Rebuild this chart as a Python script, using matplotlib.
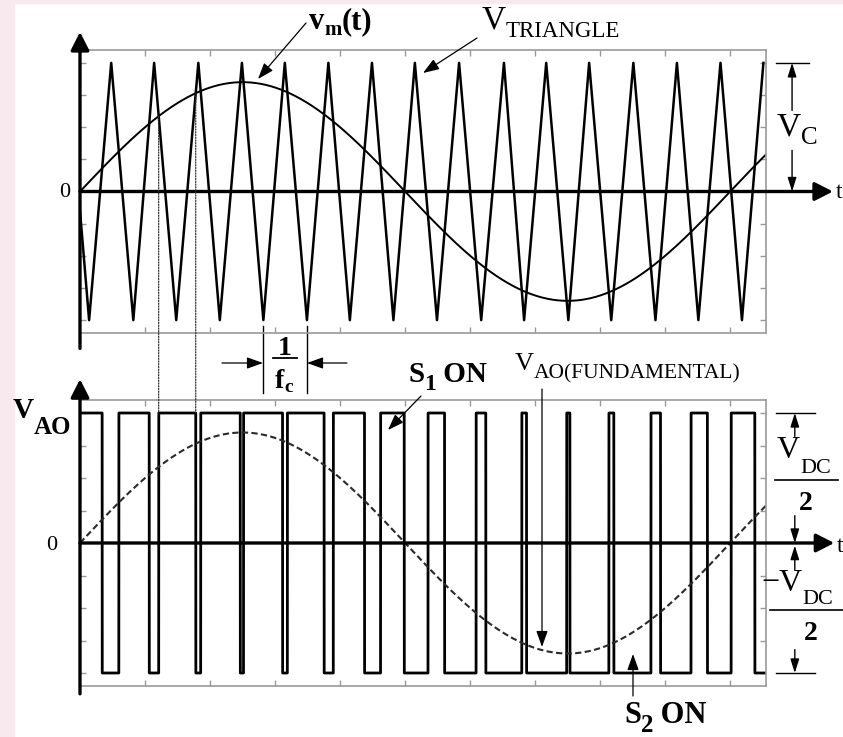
import numpy as np
import matplotlib.pyplot as plt
import matplotlib.transforms as mtransforms
from matplotlib.patches import ConnectionPatch, Rectangle

plt.rcParams['font.family'] = ['Liberation Serif', 'DejaVu Serif']

# time axis in fundamental periods (one period of v_m(t) = 1.0)
t_end = 1.055
# triangle carrier vertices (peaks at +V_C, troughs at -V_C)
tri_peaks = [-0.019, 0.048, 0.114, 0.182, 0.249, 0.315, 0.382, 0.449, 0.515, 0.583,
             0.652, 0.717, 0.783, 0.851, 0.918, 0.985, 1.051]
tri_troughs = [0.014, 0.082, 0.148, 0.215, 0.282, 0.349, 0.415, 0.482, 0.549, 0.617,
               0.683, 0.751, 0.817, 0.885, 0.951, 1.018]
mod_index = 0.85          # peak of v_m(t) relative to V_C
grid_x = [0.1, 0.2, 0.3, 0.4, 0.5, 0.6, 0.7, 0.8, 0.9, 1.0]
grid_y = [-1.0, -0.75, -0.5, -0.25, 0.25, 0.5, 0.75, 1.0]

# carrier, modulating signal and the resulting leg voltage
vt = np.array(sorted(tri_peaks + tri_troughs))
vv = np.array([1.0 if x in tri_peaks else -1.0 for x in vt])
t = np.linspace(0, t_end, 30001)
tri = np.interp(t, vt, vv)
vm = mod_index * np.sin(2 * np.pi * t)
vao = np.where(vm >= tri, 1.0, -1.0)
edges = t[np.nonzero(np.diff(vao))[0]]

W, H = 843, 737
fig = plt.figure(figsize=(W / 100, H / 100), dpi=100)
fig.patches.append(Rectangle((0, 0), 14 / W, 1, transform=fig.transFigure,
                             color='#f8e9ee', zorder=0))
fig.patches.append(Rectangle((0, 1 - 3 / H), 1, 3 / H, transform=fig.transFigure,
                             color='#f8e9ee', zorder=0))

ax1 = fig.add_axes([80 / W, (H - 333) / H, 686 / W, 283 / H])
ax2 = fig.add_axes([80 / W, (H - 686) / H, 686 / W, 286 / H])
for ax in (ax1, ax2):
    ax.set_xlim(0, t_end)
    ax.set_ylim(-1.1, 1.1)
    ax.set_xticks(grid_x)
    ax.set_yticks(grid_y)
    ax.tick_params(direction='in', length=4, width=1, colors='#999999',
                   top=True, right=True, labelbottom=False, labelleft=False)
    for s in ax.spines.values():
        s.set_color('#9a9a9a')
        s.set_linewidth(1.2)
    ax.patch.set_alpha(0)

big = dict(arrowstyle='-|>,head_length=0.55,head_width=0.28', color='k',
           lw=2.4, mutation_scale=20, shrinkA=0, shrinkB=0)

# top: carrier and modulating signal
ax1.plot(vt, vv, color='k', lw=1.8)
ax1.plot(t, vm, color='k', lw=1.4)
ax1.annotate('', xy=(0, 1.24), xytext=(0, -1.22), arrowprops=big, annotation_clip=False)
ax1.annotate('', xy=(1.158, 0), xytext=(0, 0), arrowprops=big, annotation_clip=False)

# bottom: PWM output and its fundamental
ax2.plot(t, vao, color='k', lw=2.0)
ax2.plot(t, vm, color='#2a2a2a', lw=1.5, ls=(0, (3, 1.6)))
ax2.annotate('', xy=(0, 1.26), xytext=(0, -1.16), arrowprops=big, annotation_clip=False)
ax2.annotate('', xy=(1.16, 0), xytext=(0, 0), arrowprops=big, annotation_clip=False)

# dotted projection of two switching instants
for te in edges[3:5]:
    k = np.searchsorted(t, te)
    cp = ConnectionPatch(xyA=(te, vm[k]), coordsA=ax1.transData,
                         xyB=(te, 1.0), coordsB=ax2.transData,
                         ls=(0, (1, 1.2)), lw=0.9, color='#333333')
    fig.add_artist(cp)

# overlay in image pixels for the labels
ov = fig.add_axes([0, 0, 1, 1], zorder=5)
ov.set_xlim(0, W)
ov.set_ylim(H, 0)
ov.axis('off')
ov.patch.set_alpha(0)
renderer = fig.canvas.get_renderer()


def put(x, y, pieces, weight='normal'):
    for s, size, dy in pieces:
        txt = ov.text(x, y + dy, s, fontsize=size, fontweight=weight,
                      ha='left', va='baseline')
        bb = txt.get_window_extent(renderer)
        x = ov.transData.inverted().transform((bb.x1, bb.y0))[0]


small = dict(arrowstyle='-|>,head_length=0.7,head_width=0.25', color='k',
             lw=0.9, mutation_scale=14, shrinkA=0, shrinkB=0)
dim = dict(arrowstyle='-|>,head_length=0.7,head_width=0.22', color='k',
           lw=1.0, mutation_scale=12, shrinkA=0, shrinkB=0)

ov.text(65, 192, '0', fontsize=16, ha='center', va='center')
ov.text(52, 545, '0', fontsize=16, ha='center', va='center')
ov.text(836, 192, 't', fontsize=17, ha='left', va='center')
ov.text(837, 546, 't', fontsize=17, ha='left', va='center')

put(309, 29, [('v', 22, 0), ('m', 15, 6), ('(t)', 22, 0)], 'bold')
ov.annotate('', xy=(258, 79), xytext=(306, 23), arrowprops=small)

put(482, 28, [('V', 24, 0), ('TRIANGLE', 16.5, 9)])
ov.annotate('', xy=(423, 73), xytext=(477, 38), arrowprops=small)

put(777, 135, [('V', 24, 0), ('C', 18, 9)])
bt1 = ax1.get_yaxis_transform()
ax1.plot([1.014, 1.062], [1.0, 1.0], color='k', lw=1.0, transform=bt1, clip_on=False)
ax1.annotate('', xy=(1.038, 1.0), xytext=(1.038, 0.63), xycoords=bt1,
             textcoords=bt1, arrowprops=dim, annotation_clip=False)
ax1.annotate('', xy=(1.038, 0.0), xytext=(1.038, 0.32), xycoords=bt1,
             textcoords=bt1, arrowprops=dim, annotation_clip=False)

# one carrier period, 1/f_c
bl = mtransforms.blended_transform_factory(ax1.transData, ov.transData)
for tx in tri_troughs[4:6]:
    ax1.plot([tx, tx], [326, 393], color='k', lw=1.0, transform=bl, clip_on=False)
ov.annotate('', xy=(263, 363), xytext=(222, 363), arrowprops=small)
ov.annotate('', xy=(307, 363), xytext=(347, 363), arrowprops=small)
ov.text(285, 355, '1', fontsize=20, fontweight='bold', ha='center', va='baseline')
ov.plot([273, 297], [358, 358], color='k', lw=1.3)
put(275, 388, [('f', 20, 0), ('c', 14, 4)], 'bold')

put(13, 418, [('V', 21, 0), ('AO', 18, 16)], 'bold')

put(408, 382, [('S', 21, 0), ('1', 17, 8), (' ON', 21, 0)], 'bold')
ov.annotate('', xy=(388, 430), xytext=(421, 396), arrowprops=small)

put(515, 370, [('V', 19, 0), ('AO(FUNDAMENTAL)', 15.5, 8)])
ov.annotate('', xy=(542, 647), xytext=(542, 389), arrowprops=small)

put(624, 723, [('S', 22, 0), ('2', 18, 9), (' ON', 22, 0)], 'bold')
ov.annotate('', xy=(633, 654), xytext=(633, 696), arrowprops=small)

# V_DC/2 levels
put(777, 458, [('V', 23, 0), ('DC', 16, 15)])
ov.plot([775, 838], [480, 480], color='k', lw=1.2)
ov.text(806, 510, '2', fontsize=20, fontweight='bold', ha='center', va='baseline')
put(761, 591, [('\u2212V', 23, 0), ('DC', 16, 13)])
ov.plot([770, 843], [610, 610], color='k', lw=1.2)
ov.text(811, 640, '2', fontsize=20, fontweight='bold', ha='center', va='baseline')

bt2 = ax2.get_yaxis_transform()
for yy in (1.0, -1.0):
    ax2.plot([1.014, 1.072], [yy, yy], color='k', lw=1.0, transform=bt2, clip_on=False)
ax2.annotate('', xy=(1.042, 1.0), xytext=(1.042, 0.82), xycoords=bt2,
             textcoords=bt2, arrowprops=dim, annotation_clip=False)
ax2.annotate('', xy=(1.042, 0.0), xytext=(1.042, 0.21), xycoords=bt2,
             textcoords=bt2, arrowprops=dim, annotation_clip=False)
ax2.annotate('', xy=(1.042, -0.02), xytext=(1.042, -0.21), xycoords=bt2,
             textcoords=bt2, arrowprops=dim, annotation_clip=False)
ax2.annotate('', xy=(1.042, -1.0), xytext=(1.042, -0.82), xycoords=bt2,
             textcoords=bt2, arrowprops=dim, annotation_clip=False)

fig.savefig('out.png', dpi=100)
